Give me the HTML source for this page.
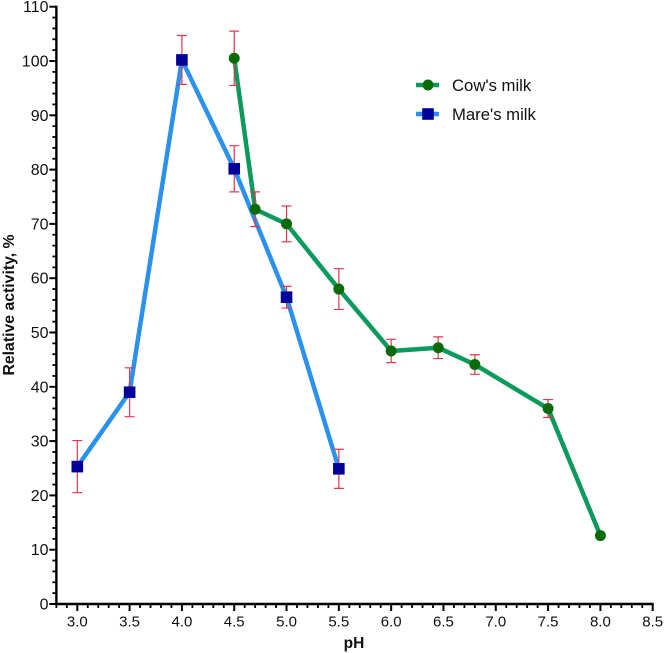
<!DOCTYPE html>
<html lang="en">
<head>
<meta charset="utf-8">
<title>Relative activity vs pH</title>
<style>
html,body{margin:0;padding:0;background:#fff;width:664px;height:653px;overflow:hidden}
svg{display:block}
text{font-family:"Liberation Sans",Arial,sans-serif;fill:#111}
</style>
</head>
<body>
<svg id="chart" width="664" height="653" viewBox="0 0 664 653" xmlns="http://www.w3.org/2000/svg">
  <g id="axes"></g>
  <g id="series"></g>
  <text x="14" y="305" transform="rotate(-90 14 305)" text-anchor="middle" font-size="15.8" font-weight="700">Relative activity, %</text>
  <text x="354" y="648" text-anchor="middle" font-size="15.5" font-weight="700">pH</text>
  <g>
    <g>
      <line x1="416" y1="85" x2="439" y2="85" stroke="#0a9a5c" stroke-width="4.5"></line>
      <circle cx="428" cy="85" r="5.5" fill="#0b6b0b"></circle>
      <text x="452" y="91" font-size="16.7">Cow's milk</text>
    </g>
    <g>
      <line x1="416" y1="114" x2="439" y2="114" stroke="#2a92ee" stroke-width="4.5"></line>
      <rect x="422.2" y="108.2" width="11.6" height="11.6" fill="#00009a"></rect>
      <text x="452" y="120" font-size="16.7">Mare's milk</text>
    </g>
  </g>
</svg>
<script>
const cowPh = [4.5, 4.7, 5.0, 5.5, 6.0, 6.45, 6.8, 7.5, 8.0];
const cowActivity = [100.5, 72.7, 70.0, 58.0, 46.6, 47.2, 44.1, 36.0, 12.6];
const cowError = [5.0, 3.2, 3.3, 3.75, 2.15, 2.0, 1.8, 1.65, 0];
const marePh = [3.0, 3.5, 4.0, 4.5, 5.0, 5.5];
const mareActivity = [25.3, 39.0, 100.2, 80.15, 56.5, 24.9];
const mareError = [4.8, 4.5, 4.5, 4.25, 2.0, 3.6];
const xTickLabels = ["3.0", "3.5", "4.0", "4.5", "5.0", "5.5", "6.0", "6.5", "7.0", "7.5", "8.0", "8.5"];
const yTickLabels = ["0", "10", "20", "30", "40", "50", "60", "70", "80", "90", "100", "110"];

const NS = 'http://www.w3.org/2000/svg';
const xScale = function (v) { return 77.3 + (v - 3) * 104.62; };
const yScale = function (v) { return 604 - v * 5.43; };
const axes = document.getElementById('axes');
const seriesGroup = document.getElementById('series');

function make(tag, attrs, parent) {
  const el = document.createElementNS(NS, tag);
  for (const k in attrs) el.setAttribute(k, attrs[k]);
  parent.appendChild(el);
  return el;
}

const xMin = 2.8, xMax = 8.5, yMax = 110;

const xAxis = make('line', { x1: xScale(xMin) - 1, y1: yScale(0), x2: xScale(xMax) + 1, y2: yScale(0), stroke: '#000', 'stroke-width': 2.4 }, axes);


const yAxis = make('line', { x1: xScale(xMin), y1: yScale(0) + 1, x2: xScale(xMin), y2: yScale(yMax) - 1, stroke: '#000', 'stroke-width': 2.4 }, axes);



for (let i = 0; i <= 57; i++) {
  const v = xMin + i * 0.1;
  const major = (i - 2) % 5 === 0;
  const t = make('line', { x1: xScale(v), y1: yScale(0), x2: xScale(v), y2: yScale(0) + (major ? 7 : 4), stroke: '#000', 'stroke-width': major ? 2 : 1.8 }, axes);
  
  
}
xTickLabels.forEach(function (s) {
  const t = make('text', { x: xScale(parseFloat(s)), y: 626.5, 'text-anchor': 'middle', 'font-size': 15 }, axes);
  t.textContent = s;
  
  
});
for (let v = 0; v <= yMax; v += 2) {
  const major = v % 10 === 0;
  const t = make('line', { x1: xScale(xMin), y1: yScale(v), x2: xScale(xMin) - (major ? 7 : 4), y2: yScale(v), stroke: '#000', 'stroke-width': major ? 2 : 1.8 }, axes);
  
  
}
yTickLabels.forEach(function (s) {
  const t = make('text', { x: 48.5, y: yScale(parseFloat(s)) + 5.5, 'text-anchor': 'end', 'font-size': 16 }, axes);
  t.textContent = s;
  
  
});

function drawLine(xs, ys, color, name) {
  const pts = xs.map(function (x, i) { return xScale(x) + ',' + yScale(ys[i]); }).join(' ');
  const l = make('polyline', { points: pts, fill: 'none', stroke: color, 'stroke-width': 4.5, 'stroke-linejoin': 'round' }, seriesGroup);
  
  
}

function drawErrors(xs, ys, es, name) {
  const c = '#e2384e';
  xs.forEach(function (x, i) {
    if (!es[i]) return;
    const px = xScale(x), hi = yScale(ys[i] + es[i]), lo = yScale(ys[i] - es[i]);
    const p = 'M' + (px - 5) + ' ' + hi + 'H' + (px + 5) + 'M' + px + ' ' + hi + 'V' + lo + 'M' + (px - 5) + ' ' + lo + 'H' + (px + 5);
    const e = make('path', { d: p, fill: 'none', stroke: c, 'stroke-width': 1.2 }, seriesGroup);
    
    
  });
}

drawLine(marePh, mareActivity, '#2a92ee', 'mare-milk-line');
drawLine(cowPh, cowActivity, '#0a9a5c', 'cow-milk-line');
drawErrors(marePh, mareActivity, mareError, 'mare-error-bar');
drawErrors(cowPh, cowActivity, cowError, 'cow-error-bar');

marePh.forEach(function (x, i) {
  const m = make('rect', { x: xScale(x) - 5.8, y: yScale(mareActivity[i]) - 5.8, width: 11.6, height: 11.6, fill: '#00009a' }, seriesGroup);
  
  
});
cowPh.forEach(function (x, i) {
  const m = make('circle', { cx: xScale(x), cy: yScale(cowActivity[i]), r: 5.5, fill: '#0b6b0b' }, seriesGroup);
  
  
});
</script>
</body>
</html>
